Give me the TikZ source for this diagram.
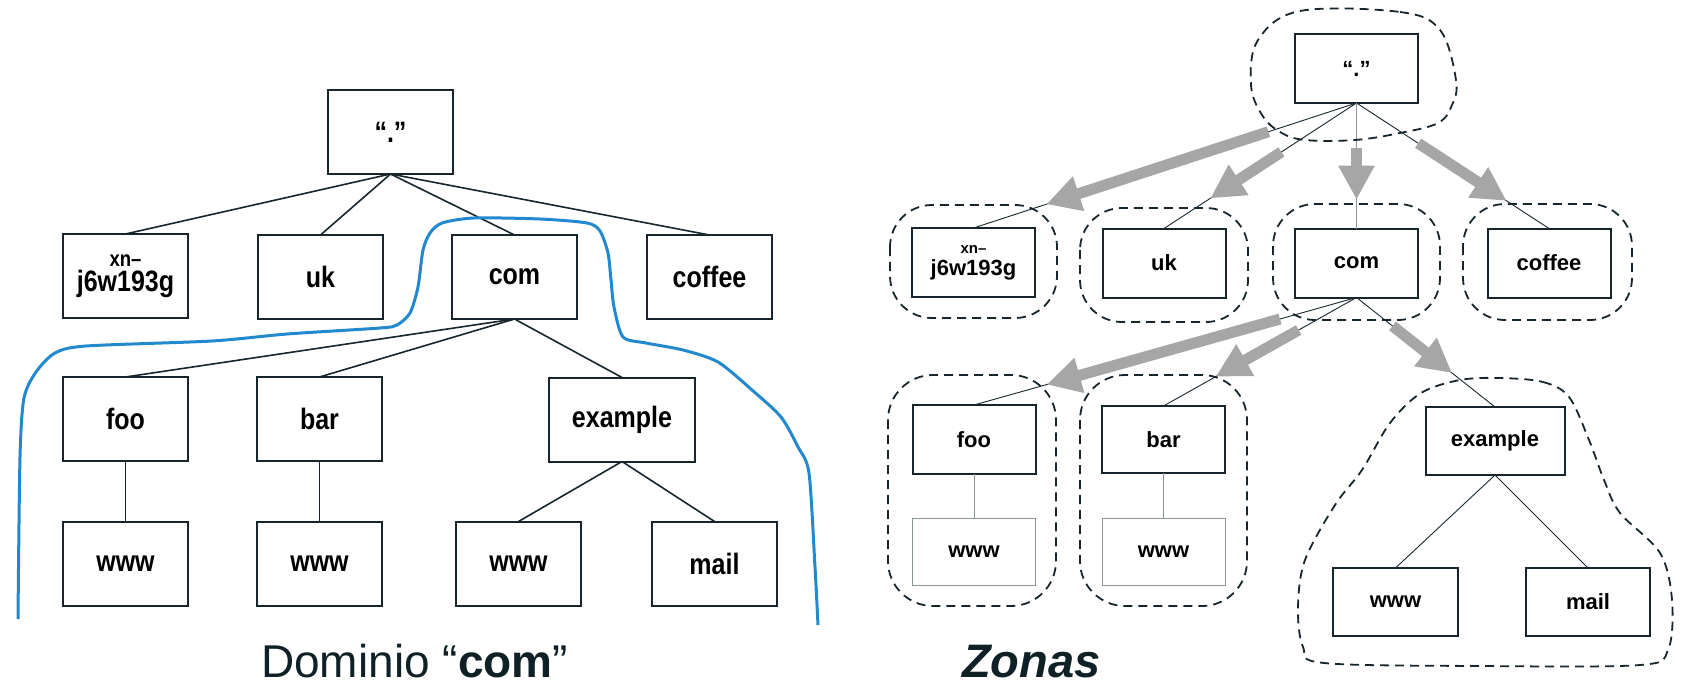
\documentclass[tikz,border=0pt]{standalone}
\usepackage{fontspec}
\setmainfont{Liberation Sans}
\usetikzlibrary{arrows.meta,calc}
\definecolor{ink}{HTML}{17262D}
\definecolor{titleink}{HTML}{0F2027}
\definecolor{domblue}{HTML}{2289CF}
\definecolor{zonegray}{HTML}{A6A6A6}
\definecolor{softline}{HTML}{8A9599}
% labels of the left tree are drawn a little taller than wide
\newcommand{\tallbox}[1]{\scalebox{1}[1.18]{#1}}

\begin{document}
\begin{tikzpicture}[x=1pt,y=-1pt,
  lbox/.style={draw=ink, line width=2pt, fill=white, minimum width=125pt,
    minimum height=84pt, inner sep=0pt, outer sep=0pt,
    font=\fontsize{25}{25}\selectfont\bfseries, align=center},
  rbox/.style={draw=ink, line width=2pt, fill=white, minimum width=123pt,
    minimum height=69pt, inner sep=0pt, outer sep=0pt,
    font=\fontsize{22}{22}\selectfont\bfseries, align=center},
  softbox/.style={rbox, draw=softline, line width=1pt},
  ledge/.style={draw=ink, line width=1.6pt},
  redge/.style={draw=ink, line width=0.9pt},
  zone/.style={draw=ink, line width=1.8pt, dash pattern=on 9pt off 6pt},
  garrow/.style={draw=zonegray, line width=11pt,
    -{Triangle[length=34pt,width=34pt]}},
  title/.style={anchor=base west, inner sep=0pt, text=titleink}
]
\useasboundingbox (0,0) rectangle (1688,687);

% ---------------- domain tree ----------------
\node[lbox] (root) at (390.5,132) {\tallbox{“.”}};
\node[lbox] (xn) at (125.5,276) {\fontsize{18.5}{22}\selectfont\tallbox{xn--}\\\tallbox{j6w193g}};
\node[lbox] (uk) at (320.5,277) {\tallbox{uk}};
\node[lbox] (com) at (514.5,277) {\tallbox{com}};
\node[lbox] (coffee) at (709.5,277) {\tallbox{coffee}};
\node[lbox] (foo) at (125.5,419) {\tallbox{foo}};
\node[lbox] (bar) at (319.5,419) {\tallbox{bar}};
\node[lbox, minimum width=146pt] (example) at (622,419.5) {\tallbox{example}};
\node[lbox] (wwwa) at (125.5,563.5) {\tallbox{www}};
\node[lbox] (wwwb) at (319.5,563.5) {\tallbox{www}};
\node[lbox] (wwwc) at (518.5,563.5) {\tallbox{www}};
\node[lbox] (mail) at (714.5,563.5) {\tallbox{mail}};

\foreach \c in {xn,uk,com,coffee} \draw[ledge] (root.south) -- (\c.north);
\foreach \c in {foo,bar,example} \draw[ledge] (com.south) -- (\c.north);
\draw[ledge] (foo.south) -- (wwwa.north);
\draw[ledge] (bar.south) -- (wwwb.north);
\draw[ledge] (example.south) -- (wwwc.north);
\draw[ledge] (example.south) -- (mail.north);

% outline of the "com" domain
\draw[domblue, line width=3pt, line join=round] plot[smooth, tension=0.45] coordinates {
  (18,619) (20,457) (24,398) (36,372) (55,353) (86,346) (212,341) (287,334)
  (380,328) (397,325) (410,313) (418,287) (423,250) (430,233) (442,223)
  (474,218) (540,219) (587,223) (600,231) (608,253) (611,280) (614,307)
  (623,337) (646,343) (683,350) (718,362) (752,390) (781,417) (798,447)
  (809,473) (815,567) (818,625)};

\node[title, font=\fontsize{46}{46}\selectfont] (domtitle) at (261,677) {Dominio “\textbf{com}”};

% ---------------- zones ----------------
\node[rbox] (rroot) at (1356.5,68.5) {“.”};
\node[rbox] (rxn) at (973.5,262.5) {\fontsize{15}{18}\selectfont xn--\\j6w193g};
\node[rbox] (ruk) at (1164,263) {uk};
\node[rbox] (rcom) at (1356.5,263) {com};
\node[rbox] (rcoffee) at (1549,263) {coffee};
\node[rbox] (rfoo) at (974,439.5) {foo};
\node[rbox, minimum height=67pt] (rbar) at (1163.5,439.5) {bar};
\node[rbox, minimum width=139pt, minimum height=68pt] (rexample) at (1495,441) {example};
\node[softbox, minimum height=67pt] (rwwwa) at (974,551.5) {www};
\node[softbox, minimum height=67pt] (rwwwb) at (1163.5,551.5) {www};
\node[rbox, minimum width=125pt, minimum height=68pt] (rwwwc) at (1395.5,602) {www};
\node[rbox, minimum width=124pt, minimum height=68pt] (rmail) at (1588,602) {mail};

\foreach \c in {rxn,ruk,rcoffee} \draw[redge] (rroot.south) -- (\c.north);
\draw[redge, draw=softline] (rroot.south) -- (rcom.north);
\foreach \c in {rfoo,rbar,rexample} \draw[redge] (rcom.south) -- (\c.north);
\draw[redge, draw=softline] (rfoo.south) -- (rwwwa.north);
\draw[redge, draw=softline] (rbar.south) -- (rwwwb.north);
\draw[redge] (rexample.south) -- (rwwwc.north);
\draw[redge] (rexample.south) -- (rmail.north);

% delegation arrows
\draw[garrow] ($(rroot.south)!0.23!(rxn.north)$) -- ($(rroot.south)!0.81!(rxn.north)$);
\draw[garrow] ($(rroot.south)!0.39!(ruk.north)$) -- ($(rroot.south)!0.76!(ruk.north)$);
\draw[garrow] ($(rroot.south)!0.36!(rcom.north)$) -- ($(rroot.south)!0.77!(rcom.north)$);
\draw[garrow] ($(rroot.south)!0.32!(rcoffee.north)$) -- ($(rroot.south)!0.78!(rcoffee.north)$);
\draw[garrow] ($(rcom.south)!0.20!(rfoo.north)$) -- ($(rcom.south)!0.81!(rfoo.north)$);
\draw[garrow] ($(rcom.south)!0.30!(rbar.north)$) -- ($(rcom.south)!0.73!(rbar.north)$);
\draw[garrow] ($(rcom.south)!0.26!(rexample.north)$) -- ($(rcom.south)!0.69!(rexample.north)$);

% zone outlines
\draw[zone] plot[smooth cycle, tension=0.6] coordinates {
  (1300,11) (1400,12) (1440,30) (1456,80) (1452,105) (1438,123) (1400,133)
  (1355,140) (1305,140) (1280,132) (1262,115) (1251,85) (1258,40)};
\draw[zone, rounded corners=42pt] (890,205) rectangle (1057,318);
\draw[zone, rounded corners=42pt] (1080,208) rectangle (1248,322);
\draw[zone, rounded corners=42pt] (1273,204) rectangle (1440,320);
\draw[zone, rounded corners=42pt] (1463,204) rectangle (1632,320);
\draw[zone, rounded corners=45pt] (888,375) rectangle (1056,606);
\draw[zone, rounded corners=45pt] (1080,375) rectangle (1247,606);
\draw[zone] plot[smooth cycle, tension=0.55] coordinates {
  (1500,378) (1543,382) (1569,397) (1589,440) (1604,480) (1620,513)
  (1660,553) (1672,600) (1668,650) (1640,665) (1480,666) (1324,663)
  (1303,647) (1298,607) (1305,560) (1335,505) (1362,470) (1390,423)
  (1421,393) (1460,380)};

\node[title, font=\fontsize{47}{47}\selectfont\bfseries\itshape] (zonetitle) at (962,677) {Zonas};
\end{tikzpicture}
\end{document}
